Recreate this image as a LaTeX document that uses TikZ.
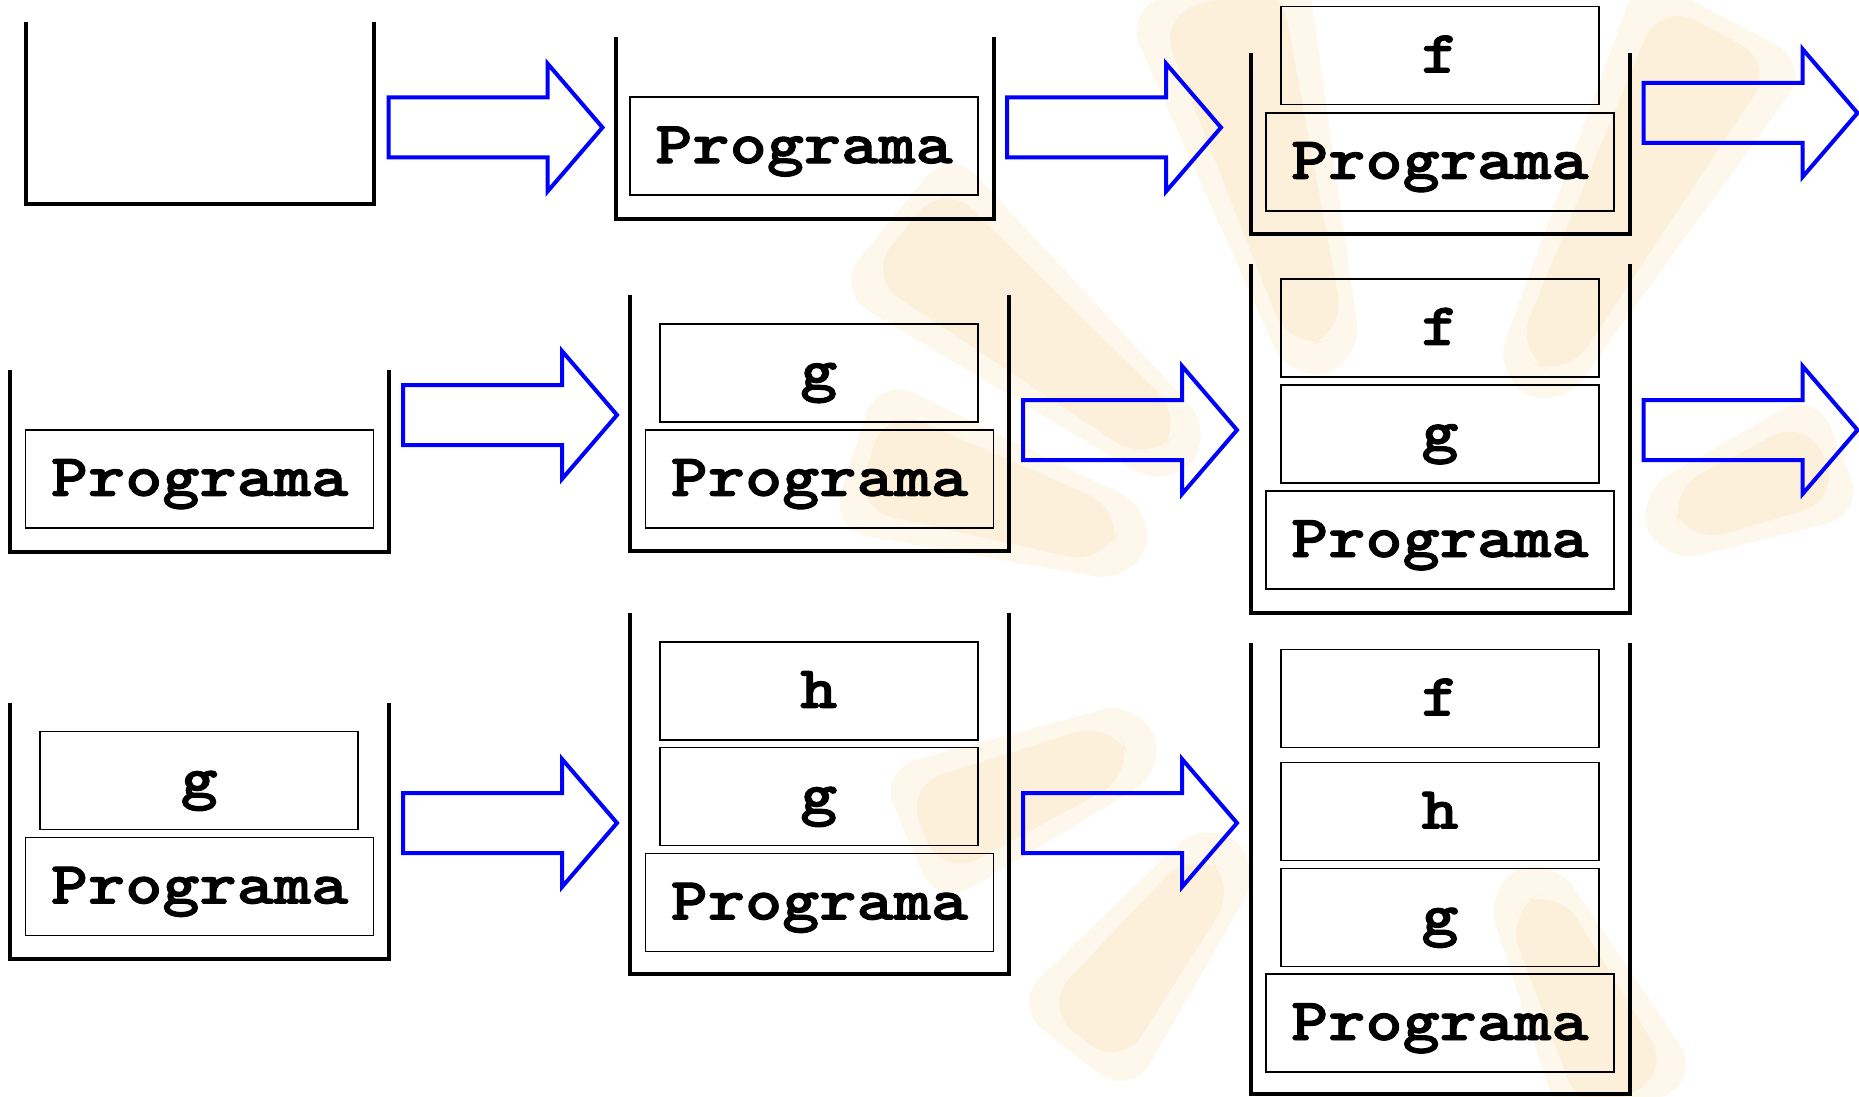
\documentclass[tikz,border=0pt]{standalone}
\usepackage{fontspec}
\newfontfamily\courfont{lmmonolt10-bold.otf}[FakeStretch=1.18,FakeBold=1.6]
\definecolor{wm}{RGB}{252,240,218}
\definecolor{wmhalo}{RGB}{254,247,235}
\definecolor{arrowblue}{RGB}{0,0,255}
\newcommand\stackU[5]{%
  \coordinate (#1nw) at (#2,#3);
  \coordinate (#1se) at (#4,#5);
  \draw[wall] (#1nw) -- (#1nw |- #1se) -- (#1se) -- (#1se |- #1nw);}
\begin{document}
\begin{tikzpicture}[x=0.5pt,y=-0.5pt,
  wall/.style={line width=2pt, line join=miter},
  box/.style={draw=black, line width=0.8pt, inner sep=0pt,
    font=\courfont\fontsize{30}{30}\selectfont,
    text height=17pt, text depth=0pt},
  pbox/.style={box, minimum width=174pt, minimum height=49pt},
  sbox/.style={box, minimum width=159pt, minimum height=49pt},
  blockarrow/.pic={\draw[arrowblue, line width=2pt, line join=miter]
    (0,-30) -- (159,-30) -- (159,-64) -- (214,0) -- (159,64) -- (159,30) -- (0,30) -- cycle;},
  ray/.style={draw=none, rounded corners=20pt}]
\fill[white] (0,0) rectangle (1859,1097);
\useasboundingbox (0,0) rectangle (1859,1097);
% watermark
\begin{scope}
  \clip (0,0) rectangle (1859,1097);
  \begin{scope}[shift={(1400,630)}]
    \foreach \t/\ro in {141/640,162/560,106/660,62/680,22/460,-64/520,-128/520,-157/520}{
      \fill[ray, wmhalo] ({-\t-8}:270) -- ({-\t-8}:\ro+20) -- ({-\t+8}:\ro+20) -- ({-\t+8}:270) -- cycle;
      \fill[ray, wm] ({-\t-5.5}:300) -- ({-\t-5.5}:\ro) -- ({-\t+5.5}:\ro) -- ({-\t+5.5}:300) -- cycle;}
  \end{scope}
\end{scope}
% stacks
\stackU{s1}{25.5}{22}{373.7}{203.5}
\stackU{s2}{615.6}{37.5}{993.5}{218.6}
\stackU{s3}{1251}{53}{1630}{234}
\stackU{s4}{10}{370}{388.5}{551.8}
\stackU{s5}{630}{294.6}{1009}{551}
\stackU{s6}{1251}{264}{1630}{612.8}
\stackU{s7}{10}{702.7}{388.5}{959}
\stackU{s8}{630}{612.8}{1009}{974}
\stackU{s9}{1251}{643}{1630}{1094}
% frames
\node[pbox] (s2p) at (804,146.2) {Programa};
\node[sbox] (s3f) at (1440,55.5) {f};
\node[pbox] (s3p) at (1439.8,161.8) {Programa};
\node[pbox] (s4p) at (199.6,478.8) {Programa};
\node[sbox] (s5g) at (818.75,372.7) {g};
\node[pbox] (s5p) at (819.4,478.8) {Programa};
\node[sbox] (s6f) at (1440,327.9) {f};
\node[sbox] (s6g) at (1440,434) {g};
\node[pbox] (s6p) at (1439.8,540) {Programa};
\node[sbox] (s7g) at (199.25,780.6) {g};
\node[pbox] (s7p) at (199.6,886.5) {Programa};
\node[sbox] (s8h) at (818.75,690.8) {h};
\node[sbox] (s8g) at (818.75,796.6) {g};
\node[pbox] (s8p) at (819.4,902.5) {Programa};
\node[sbox] (s9f) at (1440,698.5) {f};
\node[sbox] (s9h) at (1440,811.5) {h};
\node[sbox] (s9g) at (1440,917.5) {g};
\node[pbox] (s9p) at (1439.8,1023) {Programa};
% arrows
\pic (a1) at (388.5,127.5) {blockarrow};
\pic (a2) at (1007,127.5) {blockarrow};
\pic (a3) at (1643.5,113) {blockarrow};
\pic (a4) at (403,415) {blockarrow};
\pic (a5) at (1023,430) {blockarrow};
\pic (a6) at (1643.5,430) {blockarrow};
\pic (a7) at (403,823) {blockarrow};
\pic (a8) at (1023,823) {blockarrow};
\end{tikzpicture}
\end{document}
